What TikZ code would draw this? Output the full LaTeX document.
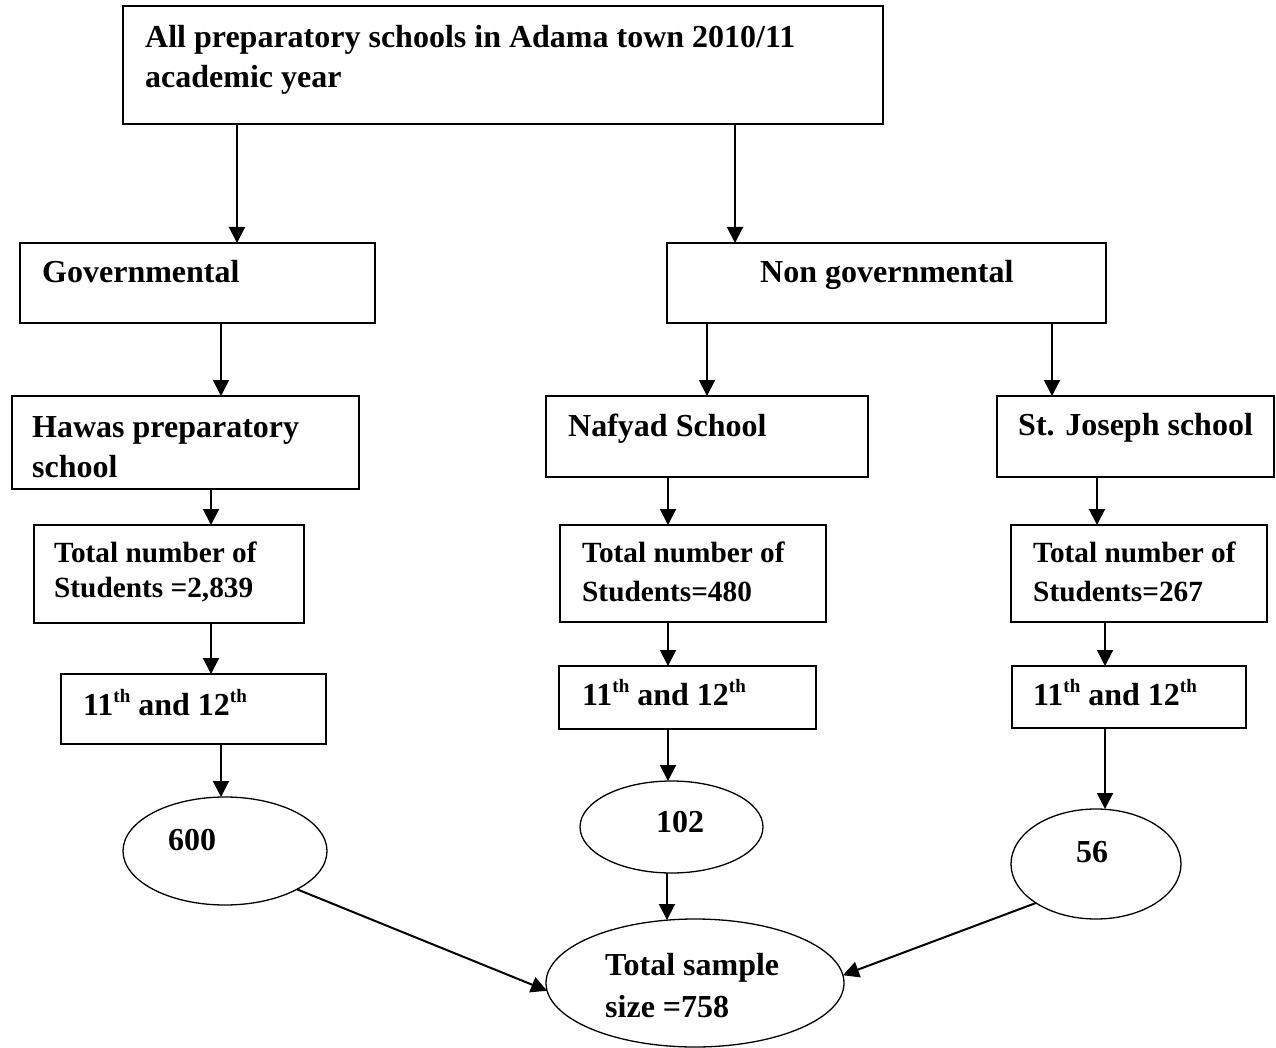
\documentclass[tikz,border=0pt]{standalone}
\usepackage{fontspec}
\setmainfont{Liberation Serif}
\usetikzlibrary{arrows.meta,shapes.geometric}

\newcommand{\rbox}[5]{%
  \node[box, minimum width={(#4)-(#2)}, minimum height={(#5)-(#3)}] (#1) at ({((#2)+(#4))/2},{((#3)+(#5))/2}) {};}
\newcommand{\rell}[5]{%
  \node[ell, minimum width={2*(#4)}, minimum height={2*(#5)}] (#1) at (#2,#3) {};}
\newcommand{\supth}{\raisebox{13pt}{\fontsize{19}{19}\selectfont th}}

\begin{document}
\begin{tikzpicture}[x=1pt,y=-1pt,
  box/.style={draw, line width=1.6pt, rectangle, inner sep=0pt, outer sep=0pt},
  ell/.style={draw, line width=1.3pt, ellipse, inner sep=0pt, outer sep=0pt},
  lbl/.style={anchor=base west, inner sep=0pt, font=\fontsize{32}{38}\selectfont\bfseries},
  lbls/.style={anchor=base west, inner sep=0pt, font=\fontsize{29.3}{35}\selectfont\bfseries},
  arr/.style={line width=2pt, -{Triangle[length=16pt,width=16pt]}}]

\useasboundingbox (0,0) rectangle (1276,1048);

% boxes
\rbox{top}{123}{6}{883}{124}
\rbox{gov}{20}{243}{375}{323}
\rbox{ngov}{667}{243}{1106}{323}
\rbox{hawas}{12}{396}{359}{489}
\rbox{nafyad}{546}{396}{868}{477}
\rbox{stj}{997}{396}{1274}{477}
\rbox{htot}{34}{525}{304}{623}
\rbox{ntot}{560}{525}{826}{622}
\rbox{stot}{1011}{525}{1267}{622}
\rbox{hgr}{61}{674}{326}{744}
\rbox{ngr}{559}{666}{816}{729}
\rbox{sgr}{1012}{666}{1246}{728}

% ellipses
\rell{e600}{225}{851}{102}{54}
\rell{e102}{671.5}{827}{91.5}{46}
\rell{e56}{1096}{864}{85}{55}
\rell{tot}{695}{983}{149}{64}

% texts
\node[lbl] (t1) at (145,48) {All preparatory schools in Adama town 2010/11};
\node[lbl] (t2) at (145,88) {academic year};
\node[lbl] (t3) at (42,283) {Governmental};
\node[lbl] (t4) at (760,283) {Non governmental};
\node[lbl] (t5) at (32,437) {Hawas preparatory};
\node[lbl] (t6) at (32,477) {school};
\node[lbl] (t7) at (568,436) {Nafyad School};
\node[lbl] (t8) at (1018,435) {St. Joseph school};
\node[lbls] (t9) at (54,562) {Total number of};
\node[lbls] (t10) at (54,597) {Students =2,839};
\node[lbls] (t11) at (582,562) {Total number of};
\node[lbls] (t12) at (582,601) {Students=480};
\node[lbls] (t13) at (1033,562) {Total number of};
\node[lbls] (t14) at (1033,601) {Students=267};
\node[lbl] (t15) at (83,715) {11\supth{} and 12\supth};
\node[lbl] (t16) at (582,705) {11\supth{} and 12\supth};
\node[lbl] (t17) at (1033,705) {11\supth{} and 12\supth};
\node[lbl] (t18) at (168,850) {600};
\node[lbl] (t19) at (656,832) {102};
\node[lbl] (t20) at (1076,862) {56};
\node[lbl] (t21) at (605,975) {Total sample};
\node[lbl] (t22) at (605,1017) {size =758};

% x positions of vertical connectors
\coordinate (xa) at (237,0);
\coordinate (xb) at (735,0);
\coordinate (xc) at (221,0);
\coordinate (xd) at (707,0);
\coordinate (xe) at (1052,0);
\coordinate (xf) at (211,0);
\coordinate (xg) at (668,0);
\coordinate (xh) at (667,0);
\coordinate (xi) at (1097,0);
\coordinate (xj) at (1105,0);

% connectors
\draw[arr] (top.south -| xa) -- (gov.north -| xa);
\draw[arr] (top.south -| xb) -- (ngov.north -| xb);
\draw[arr] (gov.south -| xc) -- (hawas.north -| xc);
\draw[arr] (ngov.south -| xd) -- (nafyad.north -| xd);
\draw[arr] (ngov.south -| xe) -- (stj.north -| xe);
\draw[arr] (hawas.south -| xf) -- (htot.north -| xf);
\draw[arr] (htot.south -| xf) -- (hgr.north -| xf);
\draw[arr] (hgr.south -| xc) -- (e600.north -| xc);
\draw[arr] (nafyad.south -| xg) -- (ntot.north -| xg);
\draw[arr] (ntot.south -| xg) -- (ngr.north -| xg);
\draw[arr] (ngr.south -| xg) -- (e102.north -| xg);
\draw[arr] (e102.south -| xh) -- ([yshift=-1pt]tot.north -| xh);
\draw[arr] (stj.south -| xi) -- (stot.north -| xi);
\draw[arr] (stot.south -| xj) -- (sgr.north -| xj);
\draw[arr] (sgr.south -| xj) -- (e56.north -| xj);
\draw[arr] (e600.-28.5) -- (tot.183.4);
\draw[arr] (e56.213.5) -- (tot.3.8);
\end{tikzpicture}
\end{document}
